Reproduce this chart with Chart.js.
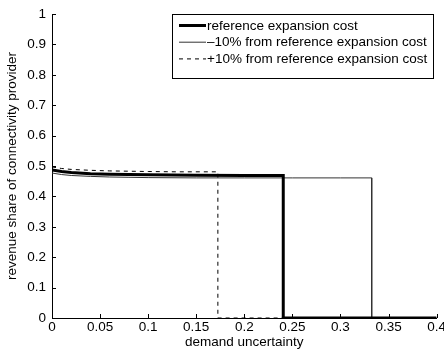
<!DOCTYPE html>
<html>
<head>
<meta charset="utf-8">
<script src="https://cdn.jsdelivr.net/npm/chart.js@4"></script>
<style>
  html, body { margin: 0; padding: 0; background: #fff; overflow: hidden; }
  #wrap { width: 447px; height: 353px; }
</style>
</head>
<body>
<div id="wrap"><canvas id="myChart"></canvas></div>
<script>
// demand uncertainty (x) and revenue share (y)
const refX   = [0, 0.01, 0.02, 0.04, 0.06, 0.08, 0.1, 0.15, 0.2, 0.2405, 0.2405, 0.4];
const refY   = [0.487, 0.482, 0.479, 0.475, 0.473, 0.472, 0.471, 0.470, 0.469, 0.469, 0, 0];
const minusX = [0, 0.01, 0.02, 0.04, 0.06, 0.08, 0.1, 0.15, 0.2, 0.25, 0.3, 0.3325, 0.3325, 0.4];
const minusY = [0.477, 0.472, 0.469, 0.466, 0.464, 0.463, 0.462, 0.461, 0.461, 0.461, 0.461, 0.461, 0, 0];
const plusX  = [0, 0.01, 0.02, 0.04, 0.06, 0.08, 0.1, 0.13, 0.1725, 0.1725, 0.4];
const plusY  = [0.497, 0.492, 0.489, 0.486, 0.484, 0.483, 0.482, 0.481, 0.481, 0, 0];

const labels = ['reference expansion cost', '\u201310% from reference expansion cost', '+10% from reference expansion cost'];
const xTicks = [0, 0.05, 0.1, 0.15, 0.2, 0.25, 0.3, 0.35, 0.4];
const yTicks = [0, 0.1, 0.2, 0.3, 0.4, 0.5, 0.6, 0.7, 0.8, 0.9, 1];

const pts = (xs, ys) => xs.map((x, i) => ({ x: x, y: ys[i] }));
const FONT = 'Liberation Sans, Arial, sans-serif';
const FS = 13.5;

// inward tick marks like matlab
const innerTicks = {
  id: 'innerTicks',
  afterDatasetsDraw(chart) {
    const c = chart.ctx, xs = chart.scales.x, ys = chart.scales.y, a = chart.chartArea;
    c.save();
    c.strokeStyle = '#000';
    c.lineWidth = 1;
    c.beginPath();
    xTicks.forEach(v => {
      const px = Math.round(xs.getPixelForValue(v)) + 0.5;
      c.moveTo(px, a.bottom); c.lineTo(px, a.bottom - 4);
    });
    yTicks.forEach(v => {
      const py = Math.round(ys.getPixelForValue(v)) + 0.5;
      c.moveTo(a.left, py); c.lineTo(a.left + 4, py);
    });
    c.stroke();
    c.restore();
  }
};

// legend box in the top right corner
const boxLegend = {
  id: 'boxLegend',
  afterDraw(chart) {
    const c = chart.ctx;
    const ds = chart.data.datasets;
    const x0 = 172.5, y0 = 14.5, w = 261, h = 64;
    c.save();
    c.fillStyle = '#fff';
    c.fillRect(x0, y0, w, h);
    c.strokeStyle = '#000';
    c.lineWidth = 1;
    c.strokeRect(x0, y0, w, h);
    c.font = FS + 'px ' + FONT;
    c.textBaseline = 'middle';
    c.fillStyle = '#000';
    ds.forEach((d, i) => {
      const yy = 25.5 + i * 16.7;
      c.beginPath();
      c.setLineDash(d.borderDash || []);
      c.lineWidth = d.borderWidth;
      c.strokeStyle = d.borderColor;
      c.moveTo(179, yy); c.lineTo(206, yy);
      c.stroke();
      c.setLineDash([]);
      c.fillText(d.label, 207, yy + 0.5);
    });
    c.restore();
  }
};

const ctx = document.getElementById('myChart');
new Chart(ctx, {
  type: 'line',
  data: {
    datasets: [{
      label: labels[0],
      data: pts(refX, refY),
      borderColor: '#000',
      borderWidth: 3,
      pointRadius: 0,
      tension: 0
    }, {
      label: labels[1],
      data: pts(minusX, minusY),
      borderColor: '#333',
      borderWidth: 1,
      pointRadius: 0,
      tension: 0
    }, {
      label: labels[2],
      data: pts(plusX, plusY),
      borderColor: '#000',
      borderWidth: 1,
      borderDash: [4, 4],
      pointRadius: 0,
      tension: 0
    }]
  },
  options: {
    responsive: true,
    maintainAspectRatio: false,
    animation: false,
    layout: { padding: { top: 12, right: 7, left: 0, bottom: 0 } },
    plugins: {
      legend: { display: false },
      tooltip: { enabled: false }
    },
    scales: {
      x: {
        type: 'linear',
        min: 0, max: 0.4,
        afterBuildTicks: s => { s.ticks = xTicks.map(v => ({ value: v })); },
        afterFit: s => { s.height = 35; },
        grid: { drawOnChartArea: false, drawTicks: false },
        border: { display: true, color: '#000', width: 1 },
        ticks: { color: '#000', font: { family: FONT, size: FS }, padding: 1, maxRotation: 0,
                 callback: v => String(v) },
        title: { display: true, text: 'demand uncertainty', color: '#000',
                 font: { family: FONT, size: FS }, padding: { top: 0, bottom: 3 } }
      },
      y: {
        min: 0, max: 1,
        afterBuildTicks: s => { s.ticks = yTicks.map(v => ({ value: v })); },
        afterFit: s => { s.width = 52; },
        grid: { drawOnChartArea: false, drawTicks: false },
        border: { display: true, color: '#000', width: 1 },
        ticks: { color: '#000', font: { family: FONT, size: FS }, padding: 6,
                 callback: v => String(v) },
        title: { display: true, text: 'revenue share of connectivity provider', color: '#000',
                 font: { family: FONT, size: FS }, padding: { top: 4, bottom: 0 } }
      }
    }
  },
  plugins: [innerTicks, boxLegend]
});
</script>
</body>
</html>
